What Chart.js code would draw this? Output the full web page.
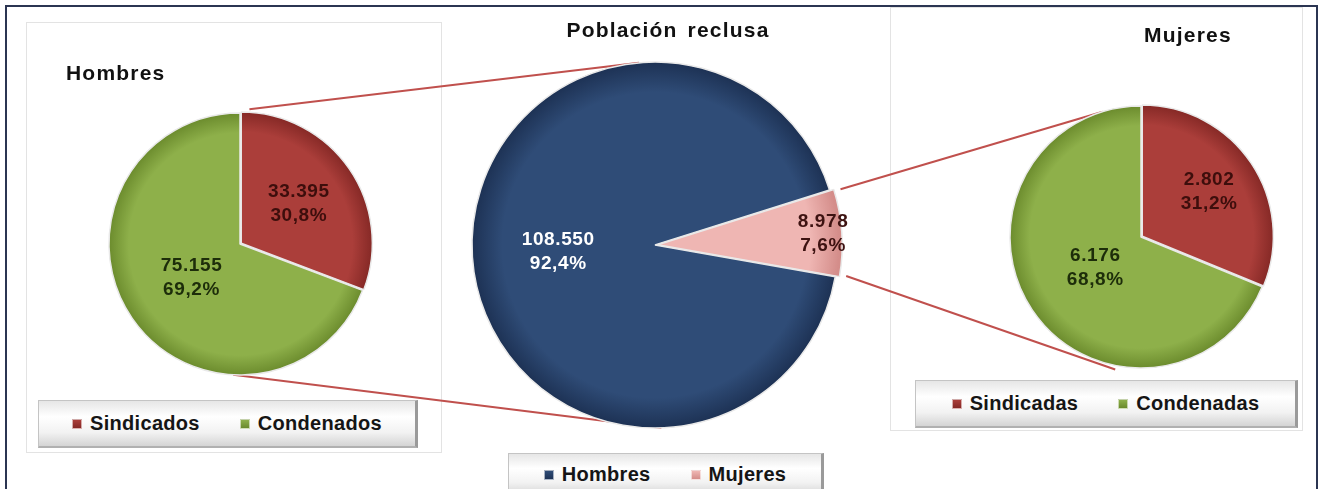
<!DOCTYPE html>
<html lang="es">
<head>
    <meta charset="UTF-8">
    <title>Población reclusa</title>
    <script src="https://cdn.jsdelivr.net/npm/chart.js"></script>
    <style>
        body { margin: 0; background: #fff; width: 1321px; height: 489px; overflow: hidden; position: relative; font-family: "Liberation Sans", Arial, sans-serif; }
        .frame { position: absolute; left: 5px; top: 5px; width: 1309px; height: 500px; border: 2px solid #2b3552; }
        .panel { position: absolute; border: 1px solid #e3e3e3; }
        .pie { position: absolute; z-index: 2; }
        #lines { position: absolute; left: 0; top: 0; z-index: 1; }
        .title { position: absolute; z-index: 3; font-weight: bold; font-size: 21px; color: #111; letter-spacing: 1.2px; line-height: 24px; white-space: nowrap; }
        .legend { position: absolute; z-index: 3; display: flex; align-items: center; justify-content: center; gap: 40px;
                  background: linear-gradient(to bottom, #e6e6e6, #ffffff 35%, #f2f2f2 70%, #d4d4d4);
                  border: 1px solid #c4c4c4; border-right: 3px solid #9a9a9a; border-bottom: 2px solid #b0b0b0; box-sizing: border-box; }
        .legend span.item { display: flex; align-items: center; font-weight: bold; font-size: 20px; color: #151515; letter-spacing: 0.3px; }
        .legend i { display: inline-block; width: 8px; height: 8px; margin-right: 8px; border: 1px solid rgba(255,255,255,0.6); }
    </style>
</head>
<body>
    <div class="frame"></div>
    <div class="panel" style="left:26px; top:22px; width:414px; height:429px;"></div>
    <div class="panel" style="left:890px; top:7px; width:411px; height:422px;"></div>

    <canvas id="lines" width="1321" height="489"></canvas>

    <div class="title" style="left:66px; top:61px;">Hombres</div>
    <div class="title" style="left:518px; top:18px; width:300px; text-align:center; word-spacing:3px;">Población reclusa</div>
    <div class="title" style="left:1088px; top:23px; width:200px; text-align:center;">Mujeres</div>

    <div class="pie" style="left:95px; top:99px; width:290px; height:290px;"><canvas id="menChart"></canvas></div>
    <div class="pie" style="left:445px; top:35px; width:420px; height:420px;"><canvas id="totalChart"></canvas></div>
    <div class="pie" style="left:996px; top:92px; width:290px; height:290px;"><canvas id="womenChart"></canvas></div>

    <div class="legend" id="menLegend" style="left:38px; top:400px; width:380px; height:48px;"></div>
    <div class="legend" id="totalLegend" style="left:508px; top:453px; width:316px; height:44px;"></div>
    <div class="legend" id="womenLegend" style="left:915px; top:380px; width:383px; height:48px;"></div>

<script>
// Data
const totalLabels = ['Hombres', 'Mujeres'];
const totalValues = [108550, 8978];
const menLabels = ['Sindicados', 'Condenados'];
const menValues = [33395, 75155];
const womenLabels = ['Sindicadas', 'Condenadas'];
const womenValues = [2802, 6176];

// Colours: [base, rim, label text]
const RED = ['#ab3e3a', '#842825', '#3d0e0c'];
const GREEN = ['#8eb04a', '#6a8a2c', '#1d2d0a'];
const NAVY = ['#2f4c77', '#1e3356', '#ffffff'];
const PINK = ['#efb6b3', '#d48d8a', '#3d1211'];

function formatNumber(v) {
    return String(v).replace(/\B(?=(\d{3})+(?!\d))/g, '.');
}

// radial shading so the slices look like the bevelled Excel pies
function shade(colors, radius) {
    return (context) => {
        const chart = context.chart;
        const ca = chart.chartArea;
        const c = colors[context.dataIndex];
        if (!ca) return c[0];
        const cx = (ca.left + ca.right) / 2;
        const cy = (ca.top + ca.bottom) / 2;
        const g = chart.ctx.createRadialGradient(cx, cy, 0, cx, cy, radius + 8);
        g.addColorStop(0, c[0]);
        g.addColorStop(0.8, c[0]);
        g.addColorStop(0.95, c[1]);
        g.addColorStop(1, c[1]);
        return g;
    };
}

// draws "value / percent" inside each slice
const sliceLabels = {
    id: 'sliceLabels',
    afterDatasetsDraw(chart, args, opts) {
        const ctx = chart.ctx;
        const meta = chart.getDatasetMeta(0);
        const data = chart.data.datasets[0].data;
        const total = data.reduce((a, b) => a + b, 0);
        ctx.save();
        ctx.font = 'bold 19px "Liberation Sans", Arial, sans-serif';
        ctx.letterSpacing = '0.6px';
        ctx.textAlign = 'center';
        ctx.textBaseline = 'middle';
        meta.data.forEach((arc, i) => {
            const mid = (arc.startAngle + arc.endAngle) / 2;
            const off = arc.options.offset || 0;
            const d = arc.outerRadius * opts.fractions[i] + off;
            const x = arc.x + Math.cos(mid) * d;
            const y = arc.y + Math.sin(mid) * d;
            const pct = (data[i] / total * 100).toFixed(1).replace('.', ',') + '%';
            ctx.fillStyle = opts.colors[i][2];
            ctx.fillText(formatNumber(data[i]), x, y - 12);
            ctx.fillText(pct, x, y + 12);
        });
        ctx.restore();
    }
};

function makePie(id, labels, values, colors, radius, rotation, offsets, fractions) {
    return new Chart(document.getElementById(id), {
        type: 'pie',
        data: {
            labels: labels,
            datasets: [{
                data: values,
                backgroundColor: shade(colors, radius),
                borderColor: '#e9e9e9',
                borderWidth: 1.5,
                offset: offsets
            }]
        },
        options: {
            responsive: true,
            maintainAspectRatio: false,
            animation: false,
            radius: radius,
            rotation: rotation,
            layout: { padding: 0 },
            plugins: {
                legend: { display: false },
                tooltip: { enabled: false },
                sliceLabels: { fractions: fractions, colors: colors }
            }
        },
        plugins: [sliceLabels]
    });
}

function makeLegend(id, labels, colors) {
    const box = document.getElementById(id);
    labels.forEach((label, i) => {
        const item = document.createElement('span');
        item.className = 'item';
        item.innerHTML = `<i style="background:linear-gradient(${colors[i][0]}, ${colors[i][1]})"></i>${label}`;
        box.appendChild(item);
    });
}

const menChart = makePie('menChart', menLabels, menValues, [RED, GREEN], 131, 0, [6, 0], [0.5, 0.45]);
const totalChart = makePie('totalChart', totalLabels, totalValues, [NAVY, PINK], 183, 100, [0, 11], [0.53, 0.86]);
const womenChart = makePie('womenChart', womenLabels, womenValues, [RED, GREEN], 131, 0, [6, 0], [0.58, 0.42]);

makeLegend('menLegend', menLabels, [RED, GREEN]);
makeLegend('totalLegend', totalLabels, [NAVY, PINK]);
makeLegend('womenLegend', womenLabels, [RED, GREEN]);

// point on the rim of a pie, in page coordinates
function rimPoint(chart, angleDeg, extra) {
    const arc = chart.getDatasetMeta(0).data[0];
    const rect = chart.canvas.parentNode;
    const a = angleDeg * Math.PI / 180;
    const r = arc.outerRadius + (extra || 0);
    return [rect.offsetLeft + arc.x + Math.cos(a) * r, rect.offsetTop + arc.y + Math.sin(a) * r];
}

// rim point of one slice edge (takes the slice offset into account)
function sliceEdge(chart, index, useEnd) {
    const arc = chart.getDatasetMeta(0).data[index];
    const rect = chart.canvas.parentNode;
    const mid = (arc.startAngle + arc.endAngle) / 2;
    const off = arc.options.offset || 0;
    const a = useEnd ? arc.endAngle : arc.startAngle;
    return [rect.offsetLeft + arc.x + Math.cos(mid) * off + Math.cos(a) * arc.outerRadius,
            rect.offsetTop + arc.y + Math.sin(mid) * off + Math.sin(a) * arc.outerRadius];
}

// connector lines between the pies
function drawConnectors() {
    const ctx = document.getElementById('lines').getContext('2d');
    ctx.strokeStyle = '#c0504d';
    ctx.lineWidth = 2;
    const segs = [
        [rimPoint(menChart, -86, 4), rimPoint(totalChart, -95)],
        [rimPoint(menChart, 93), rimPoint(totalChart, 88)],
        [sliceEdge(totalChart, 1, false), rimPoint(womenChart, -107)],
        [sliceEdge(totalChart, 1, true), rimPoint(womenChart, 101, 4)]
    ];
    segs.forEach(([p, q]) => {
        ctx.beginPath();
        ctx.moveTo(p[0], p[1]);
        ctx.lineTo(q[0], q[1]);
        ctx.stroke();
    });
}

drawConnectors();
</script>
</body>
</html>
